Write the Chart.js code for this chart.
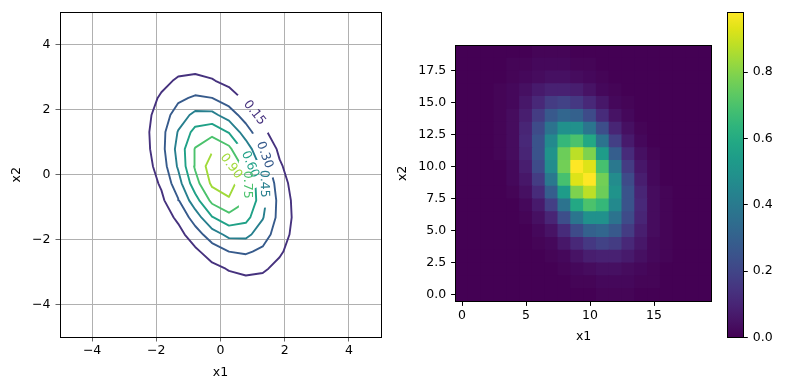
<!DOCTYPE html>
<html>
<head>
<meta charset="utf-8">
<script src="https://cdn.jsdelivr.net/npm/chart.js@4.4.0/dist/chart.umd.min.js"></script>
<style>
  body { margin: 0; background: #fff; }
  #wrap { position: relative; width: 785px; height: 390px; }
  canvas { position: absolute; top: 0; }
</style>
</head>
<body>
<div id="wrap">
  <canvas id="contour-chart" style="left:0px" width="400" height="390"></canvas>
  <canvas id="heat-chart" style="left:385px" width="335" height="390"></canvas>
  <canvas id="colorbar-chart" style="left:715px" width="70" height="390"></canvas>
</div>
<script>
// grid positions (same for x1 and x2)
const x1Grid = [-5.000, -4.474, -3.947, -3.421, -2.895, -2.368, -1.842, -1.316, -0.789, -0.263,
                 0.263,  0.789,  1.316,  1.842,  2.368,  2.895,  3.421,  3.947,  4.474,  5.000];
const x2Grid = [-5.000, -4.474, -3.947, -3.421, -2.895, -2.368, -1.842, -1.316, -0.789, -0.263,
                 0.263,  0.789,  1.316,  1.842,  2.368,  2.895,  3.421,  3.947,  4.474,  5.000];

// density values, zRows[j][i] -> x2 index j (bottom row first), x1 index i
const zRows = [
  [0.00,0.00,0.00,0.00,0.00,0.00,0.00,0.00,0.00,0.00,0.00,0.01,0.01,0.01,0.00,0.00,0.00,0.00,0.00,0.00],
  [0.00,0.00,0.00,0.00,0.00,0.00,0.00,0.00,0.00,0.01,0.01,0.02,0.02,0.02,0.01,0.01,0.00,0.00,0.00,0.00],
  [0.00,0.00,0.00,0.00,0.00,0.00,0.00,0.00,0.01,0.02,0.03,0.04,0.04,0.03,0.02,0.01,0.00,0.00,0.00,0.00],
  [0.00,0.00,0.00,0.00,0.00,0.00,0.00,0.01,0.02,0.05,0.08,0.09,0.09,0.07,0.04,0.02,0.01,0.00,0.00,0.00],
  [0.00,0.00,0.00,0.00,0.00,0.00,0.01,0.02,0.06,0.11,0.16,0.19,0.17,0.11,0.06,0.02,0.01,0.00,0.00,0.00],
  [0.00,0.00,0.00,0.00,0.00,0.00,0.02,0.05,0.12,0.22,0.30,0.32,0.27,0.17,0.08,0.03,0.01,0.00,0.00,0.00],
  [0.00,0.00,0.00,0.00,0.00,0.01,0.04,0.10,0.23,0.38,0.49,0.49,0.37,0.22,0.10,0.03,0.01,0.00,0.00,0.00],
  [0.00,0.00,0.00,0.00,0.00,0.02,0.07,0.18,0.37,0.59,0.70,0.65,0.46,0.25,0.11,0.03,0.01,0.00,0.00,0.00],
  [0.00,0.00,0.00,0.00,0.01,0.04,0.12,0.29,0.54,0.79,0.88,0.76,0.50,0.25,0.10,0.03,0.01,0.00,0.00,0.00],
  [0.00,0.00,0.00,0.00,0.02,0.06,0.17,0.39,0.69,0.93,0.98,0.77,0.47,0.22,0.08,0.02,0.00,0.00,0.00,0.00],
  [0.00,0.00,0.00,0.00,0.02,0.08,0.22,0.47,0.77,0.98,0.93,0.69,0.39,0.17,0.06,0.02,0.00,0.00,0.00,0.00],
  [0.00,0.00,0.00,0.01,0.03,0.10,0.25,0.50,0.76,0.88,0.79,0.54,0.29,0.12,0.04,0.01,0.00,0.00,0.00,0.00],
  [0.00,0.00,0.00,0.01,0.03,0.11,0.25,0.46,0.65,0.70,0.59,0.37,0.18,0.07,0.02,0.00,0.00,0.00,0.00,0.00],
  [0.00,0.00,0.00,0.01,0.03,0.10,0.22,0.37,0.49,0.49,0.38,0.23,0.10,0.04,0.01,0.00,0.00,0.00,0.00,0.00],
  [0.00,0.00,0.00,0.01,0.03,0.08,0.17,0.27,0.32,0.30,0.22,0.12,0.05,0.02,0.00,0.00,0.00,0.00,0.00,0.00],
  [0.00,0.00,0.00,0.01,0.02,0.06,0.11,0.17,0.19,0.16,0.11,0.06,0.02,0.01,0.00,0.00,0.00,0.00,0.00,0.00],
  [0.00,0.00,0.00,0.01,0.02,0.04,0.07,0.09,0.09,0.08,0.05,0.02,0.01,0.00,0.00,0.00,0.00,0.00,0.00,0.00],
  [0.00,0.00,0.00,0.00,0.01,0.02,0.03,0.04,0.04,0.03,0.02,0.01,0.00,0.00,0.00,0.00,0.00,0.00,0.00,0.00],
  [0.00,0.00,0.00,0.00,0.01,0.01,0.02,0.02,0.02,0.01,0.01,0.00,0.00,0.00,0.00,0.00,0.00,0.00,0.00,0.00],
  [0.00,0.00,0.00,0.00,0.00,0.00,0.01,0.01,0.01,0.00,0.00,0.00,0.00,0.00,0.00,0.00,0.00,0.00,0.00,0.00]
];

const contourLevels = [0.15, 0.30, 0.45, 0.60, 0.75, 0.90];
// rough spot (x1, x2) where each level's inline label sits
const labelSpots = [[1.01, 1.87], [1.37, 0.61], [1.43, -0.27], [0.98, 0.35], [0.89, -0.31], [0.39, 0.28]];

const contourTicks = [-4, -2, 0, 2, 4];
const heatXTicks = [0, 5, 10, 15];
const heatYTicks = [0, 2.5, 5, 7.5, 10, 12.5, 15, 17.5];
const colorbarTicks = [0, 0.2, 0.4, 0.6, 0.8];

const viridisStops = ['#440154','#471365','#482475','#463480','#414487','#3b528b','#355f8d',
  '#2f6c8e','#2a788e','#25848e','#21918c','#1e9c89','#22a884','#2fb47c','#44bf70','#5ec962',
  '#7ad151','#9bd93c','#bddf26','#dfe318','#fde725'];

const FONT = '12.5px "DejaVu Sans"';

function hexRgb(h) {
  return [1, 3, 5].map(k => parseInt(h.slice(k, k + 2), 16));
}

function viridis(t) {
  t = Math.min(1, Math.max(0, t));
  const p = t * (viridisStops.length - 1);
  const k = Math.min(Math.floor(p), viridisStops.length - 2);
  const f = p - k;
  const a = hexRgb(viridisStops[k]), b = hexRgb(viridisStops[k + 1]);
  const c = a.map((v, n) => Math.round(v + (b[n] - v) * f));
  return 'rgb(' + c.join(',') + ')';
}

const zMax = Math.max(...zRows.flat());
const zMin = Math.min(...zRows.flat());

// marching squares on the grid, then chain the pieces into polylines
function contourData(level) {
  const segs = [], pts = {};
  const cross = (key, xa, ya, za, xb, yb, zb) => {
    const t = (level - za) / (zb - za);
    pts[key] = { x: xa + t * (xb - xa), y: ya + t * (yb - ya) };
    return key;
  };
  for (let j = 0; j < zRows.length - 1; j++) {
    for (let i = 0; i < x1Grid.length - 1; i++) {
      const z0 = zRows[j][i], z1 = zRows[j][i + 1], z2 = zRows[j + 1][i + 1], z3 = zRows[j + 1][i];
      const xa = x1Grid[i], xb = x1Grid[i + 1], ya = x2Grid[j], yb = x2Grid[j + 1];
      const up = [z0, z1, z2, z3].map(z => z >= level);
      const e = {};
      if (up[0] !== up[1]) e.b = cross('h' + i + ',' + j, xa, ya, z0, xb, ya, z1);
      if (up[1] !== up[2]) e.r = cross('v' + (i + 1) + ',' + j, xb, ya, z1, xb, yb, z2);
      if (up[3] !== up[2]) e.t = cross('h' + i + ',' + (j + 1), xa, yb, z3, xb, yb, z2);
      if (up[0] !== up[3]) e.l = cross('v' + i + ',' + j, xa, ya, z0, xa, yb, z3);
      const keys = Object.keys(e);
      if (keys.length === 2) {
        segs.push([e[keys[0]], e[keys[1]]]);
      } else if (keys.length === 4) {
        const mid = (z0 + z1 + z2 + z3) / 4 >= level;
        if (mid === up[0]) segs.push([e.b, e.r], [e.t, e.l]);
        else segs.push([e.b, e.l], [e.r, e.t]);
      }
    }
  }
  const adj = {};
  segs.forEach((s, k) => {
    (adj[s[0]] = adj[s[0]] || []).push(k);
    (adj[s[1]] = adj[s[1]] || []).push(k);
  });
  const used = segs.map(() => false);
  const out = [];
  for (let k = 0; k < segs.length; k++) {
    if (used[k]) continue;
    used[k] = true;
    const line = [segs[k][0], segs[k][1]];
    for (let dir = 0; dir < 2; dir++) {
      while (true) {
        const end = line[line.length - 1];
        const next = (adj[end] || []).find(n => !used[n]);
        if (next === undefined) break;
        used[next] = true;
        line.push(segs[next][0] === end ? segs[next][1] : segs[next][0]);
      }
      line.reverse();
    }
    line.forEach(key => out.push(pts[key]));
    out.push({ x: null, y: null });
  }
  return out;
}

Chart.defaults.font.family = '"DejaVu Sans", sans-serif';
Chart.defaults.font.size = 12.5;
Chart.defaults.color = '#000';

const fixTicks = list => scale => { scale.ticks = list.map(v => ({ value: v })); };
const minusSign = v => (v < 0 ? '\u2212' + Math.abs(v) : String(v));

// black box around the plotting area
const frame = {
  id: 'frame',
  afterDatasetsDraw(chart) {
    const a = chart.chartArea, ctx = chart.ctx;
    ctx.save();
    ctx.strokeStyle = '#000';
    ctx.lineWidth = 1;
    ctx.strokeRect(Math.floor(a.left) + 0.5, Math.floor(a.top) + 0.5,
      Math.round(a.right - a.left), Math.round(a.bottom - a.top));
    ctx.restore();
  }
};

// inline contour labels: cut a gap in the line, write the level in it
const contourLabels = {
  id: 'contourLabels',
  beforeDatasetsDraw(chart) {
    const xs = chart.scales.x, ys = chart.scales.y, ctx = chart.ctx;
    ctx.save();
    ctx.font = FONT;
    chart.$labels = contourLevels.map((lv, k) => {
      const pts = chart.data.datasets[k].data;
      const ax = xs.getPixelForValue(labelSpots[k][0]), ay = ys.getPixelForValue(labelSpots[k][1]);
      const px = p => [xs.getPixelForValue(p.x), ys.getPixelForValue(p.y)];
      let best = null;
      for (let n = 0; n + 1 < pts.length; n++) {
        if (pts[n].x === null || pts[n + 1].x === null) continue;
        const [x0, y0] = px(pts[n]), [x1, y1] = px(pts[n + 1]);
        const dx = x1 - x0, dy = y1 - y0;
        let t = ((ax - x0) * dx + (ay - y0) * dy) / (dx * dx + dy * dy || 1);
        t = Math.max(0, Math.min(1, t));
        const cx = x0 + t * dx, cy = y0 + t * dy;
        const d = (cx - ax) ** 2 + (cy - ay) ** 2;
        if (!best || d < best.d) {
          const pa = n > 0 && pts[n - 1].x !== null ? pts[n - 1] : pts[n];
          const pb = n + 2 < pts.length && pts[n + 2].x !== null ? pts[n + 2] : pts[n + 1];
          const [ux, uy] = px(pa), [vx, vy] = px(pb);
          best = { d, cx, cy, angle: Math.atan2(vy - uy, vx - ux) };
        }
      }
      let a = best.angle;
      if (a > Math.PI / 2) a -= Math.PI;
      if (a <= -Math.PI / 2) a += Math.PI;
      const text = lv.toFixed(2);
      return { text, x: best.cx, y: best.cy, angle: a, w: ctx.measureText(text).width,
               color: chart.data.datasets[k].borderColor };
    });
    ctx.restore();
  },
  beforeDatasetDraw(chart, args) {
    const lab = chart.$labels && chart.$labels[args.index];
    if (!lab) return;
    const ctx = chart.ctx;
    const hw = lab.w / 2 + 10, hh = 8;
    const c = Math.cos(lab.angle), s = Math.sin(lab.angle);
    ctx.save();
    ctx.beginPath();
    ctx.rect(0, 0, chart.width, chart.height);
    [[-hw, -hh], [hw, -hh], [hw, hh], [-hw, hh]].forEach(([u, v], n) => {
      const X = lab.x + u * c - v * s, Y = lab.y + u * s + v * c;
      if (n) ctx.lineTo(X, Y); else ctx.moveTo(X, Y);
    });
    ctx.closePath();
    ctx.clip('evenodd');
  },
  afterDatasetDraw(chart, args) {
    if (chart.$labels && chart.$labels[args.index]) chart.ctx.restore();
  },
  afterDatasetsDraw(chart) {
    const ctx = chart.ctx;
    chart.$labels.forEach(lab => {
      ctx.save();
      ctx.translate(lab.x, lab.y);
      ctx.rotate(lab.angle);
      ctx.font = FONT;
      ctx.fillStyle = lab.color;
      ctx.textAlign = 'center';
      ctx.textBaseline = 'middle';
      ctx.fillText(lab.text, 0, 0);
      ctx.restore();
    });
  }
};

new Chart(document.querySelector('#contour-chart'), {
  type: 'line',
  data: {
    datasets: contourLevels.map(lv => ({
      label: lv.toFixed(2),
      data: contourData(lv),
      borderColor: viridis(lv / 1.05),
      borderWidth: 1.9,
      pointRadius: 0,
      tension: 0,
      spanGaps: false,
      fill: false,
      clip: 0,
      borderCapStyle: 'round',
      borderJoinStyle: 'round'
    }))
  },
  options: {
    responsive: false,
    animation: false,
    layout: { padding: { left: 0, right: 19, top: 10, bottom: 0 } },
    plugins: { legend: { display: false }, tooltip: { enabled: false } },
    scales: {
      x: {
        type: 'linear', min: -5, max: 5,
        afterBuildTicks: fixTicks(contourTicks),
        afterFit: s => { s.height = 53; },
        grid: { color: '#b0b0b0', lineWidth: 1, tickLength: 4.5, tickColor: '#666' },
        border: { display: false },
        ticks: { padding: 2, maxRotation: 0, callback: minusSign },
        title: { display: true, text: 'x1', padding: { top: 0, bottom: 10 } }
      },
      y: {
        type: 'linear', min: -5, max: 5,
        afterBuildTicks: fixTicks(contourTicks),
        afterFit: s => { s.width = 60; },
        grid: { color: '#b0b0b0', lineWidth: 1, tickLength: 4.5, tickColor: '#666' },
        border: { display: false },
        ticks: { padding: 5, callback: minusSign },
        title: { display: true, text: 'x2', padding: { top: 9, bottom: 0 } }
      }
    }
  },
  plugins: [contourLabels, frame]
});

// heatmap: one floating bar per cell, one dataset per row
new Chart(document.querySelector('#heat-chart'), {
  type: 'bar',
  data: {
    datasets: zRows.map((row, j) => ({
      data: row.map((z, i) => ({ x: i, y: [j - 0.5, j + 0.5] })),
      backgroundColor: row.map(z => viridis((z - zMin) / (zMax - zMin))),
      borderWidth: 0,
      inflateAmount: 0.5,
      barPercentage: 1,
      categoryPercentage: 1,
      grouped: false,
      clip: 0
    }))
  },
  options: {
    responsive: false,
    animation: false,
    layout: { padding: { left: 0, right: 8.4, top: 45.4, bottom: 0 } },
    plugins: { legend: { display: false }, tooltip: { enabled: false } },
    scales: {
      x: {
        type: 'linear', min: -0.5, max: 19.5, offset: false,
        afterBuildTicks: fixTicks(heatXTicks),
        afterFit: s => { s.height = 88.6; },
        grid: { drawOnChartArea: false, offset: false, tickLength: 4.5, tickColor: '#000' },
        border: { display: false },
        ticks: { padding: 2, maxRotation: 0 },
        title: { display: true, text: 'x1', padding: { top: 0, bottom: 45.5 } }
      },
      y: {
        type: 'linear', min: -0.5, max: 19.5, offset: false,
        afterBuildTicks: fixTicks(heatYTicks),
        afterFit: s => { s.width = 70.6; },
        grid: { drawOnChartArea: false, offset: false, tickLength: 4.5, tickColor: '#000' },
        border: { display: false },
        ticks: { padding: 5, callback: v => v.toFixed(1) },
        title: { display: true, text: 'x2', padding: { top: 10, bottom: 0 } }
      }
    }
  },
  plugins: [frame]
});

// colour bar
new Chart(document.querySelector('#colorbar-chart'), {
  type: 'bar',
  data: {
    labels: [''],
    datasets: [{
      data: [[zMin, zMax]],
      backgroundColor: c => {
        const a = c.chart.chartArea;
        if (!a) return viridisStops[0];
        const g = c.chart.ctx.createLinearGradient(0, a.bottom, 0, a.top);
        viridisStops.forEach((col, k) => g.addColorStop(k / (viridisStops.length - 1), col));
        return g;
      },
      borderWidth: 0,
      barPercentage: 1,
      categoryPercentage: 1,
      clip: 0
    }]
  },
  options: {
    responsive: false,
    animation: false,
    layout: { padding: { left: 12.3, right: 0, top: 10, bottom: 52.7 } },
    plugins: { legend: { display: false }, tooltip: { enabled: false } },
    scales: {
      x: { display: false },
      y: {
        position: 'right', min: zMin, max: zMax,
        afterBuildTicks: fixTicks(colorbarTicks),
        afterFit: s => { s.width = 41.7; },
        grid: { drawOnChartArea: false, tickLength: 4.5, tickColor: '#000' },
        border: { display: false },
        ticks: { padding: 5, callback: v => v.toFixed(1) }
      }
    }
  },
  plugins: [frame]
});
</script>
</body>
</html>
